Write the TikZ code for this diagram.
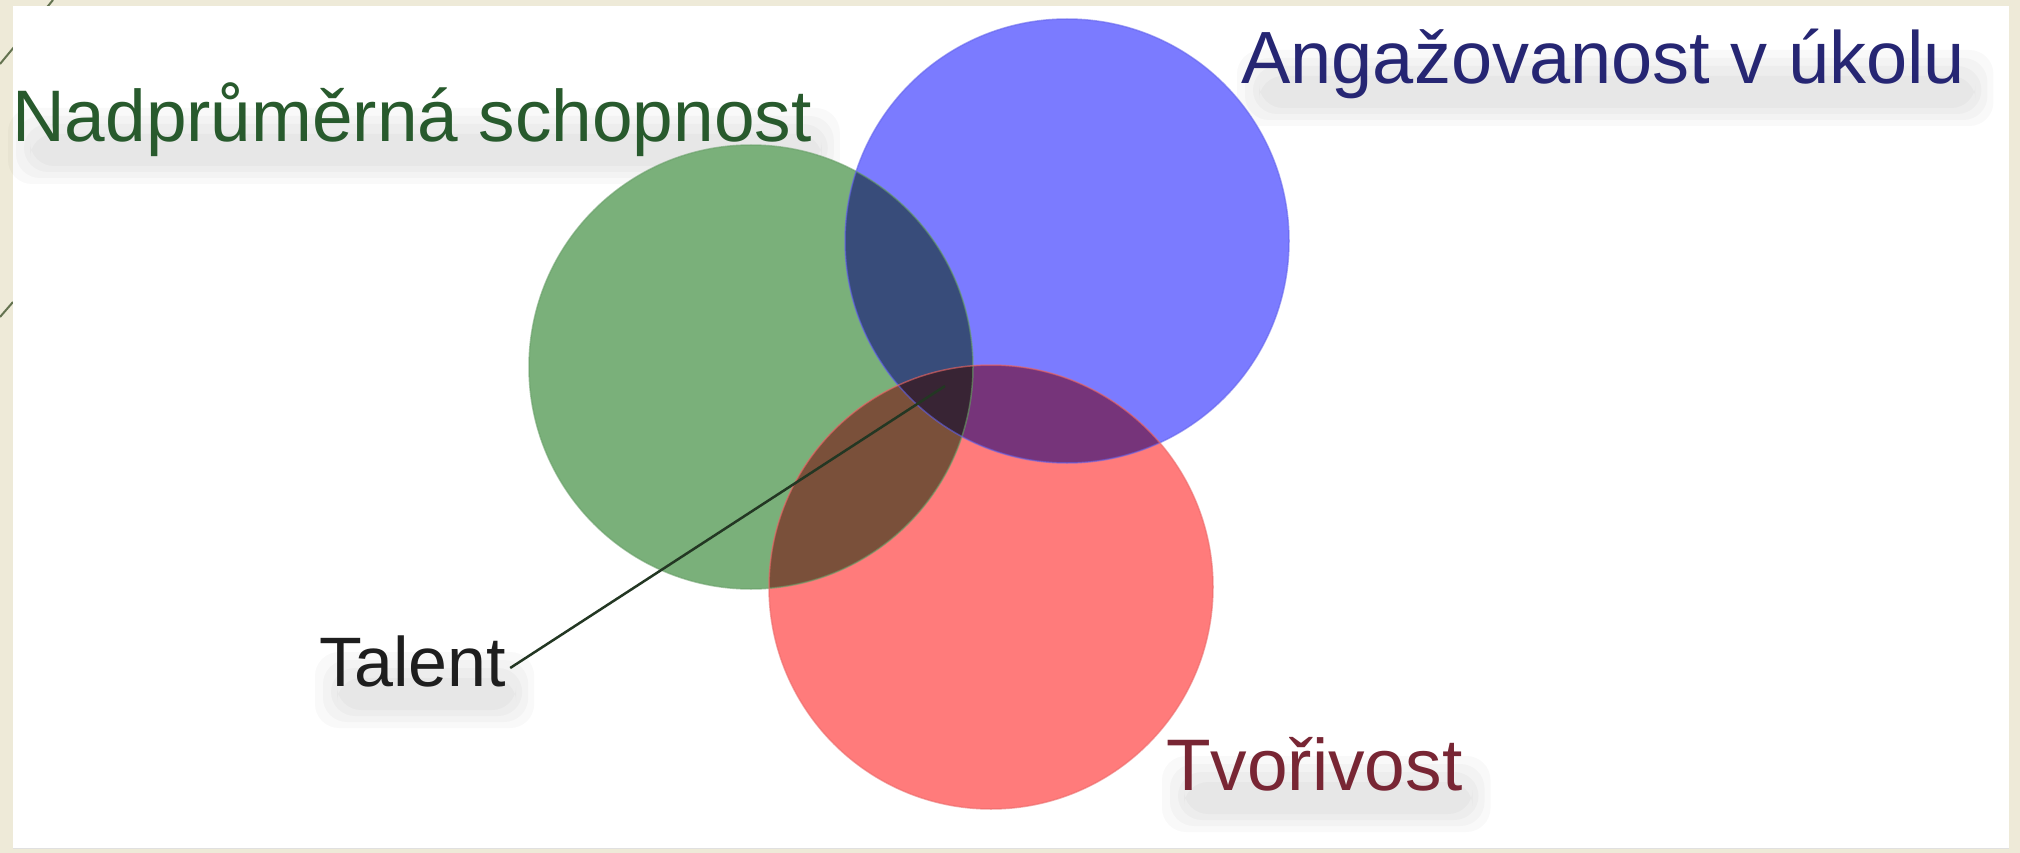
\documentclass[tikz,border=0pt]{standalone}
\usepackage{fontspec}
\setmainfont{Liberation Sans}
\definecolor{bgbeige}{RGB}{238,234,216}
\definecolor{decoline}{RGB}{100,115,80}
\definecolor{gfill}{RGB}{122,176,122}
\definecolor{bfill}{RGB}{123,123,255}
\definecolor{rfill}{RGB}{255,123,123}
\definecolor{gbfill}{RGB}{56,76,122}
\definecolor{brfill}{RGB}{118,52,122}
\definecolor{grfill}{RGB}{122,80,58}
\definecolor{allfill}{RGB}{56,36,52}
\definecolor{gedge}{RGB}{105,160,105}
\definecolor{bedge}{RGB}{100,100,235}
\definecolor{redge}{RGB}{235,105,105}
\definecolor{gtext}{RGB}{40,90,45}
\definecolor{btext}{RGB}{38,38,115}
\definecolor{ttext}{RGB}{30,30,30}
\definecolor{rtext}{RGB}{120,38,52}
\definecolor{talentline}{RGB}{35,55,35}
\pgfdeclarelayer{bg}
\pgfdeclarelayer{shade}
\pgfsetlayers{bg,shade,main}
\tikzset{
  lbl/.style={inner sep=0pt, anchor=base west, font=\fontsize{73}{80}\selectfont},
  softlayer/.style={fill=black, opacity=0.022, rounded corners=24pt},
}
\newcommand{\softshadow}[1]{%
  \fill[softlayer] ([xshift=-4pt,yshift=-42pt]#1.base west) rectangle ([xshift=28pt,yshift=34pt]#1.base east);
  \fill[softlayer] ([xshift=4pt,yshift=-36pt]#1.base west) rectangle ([xshift=22pt,yshift=26pt]#1.base east);
  \fill[softlayer] ([xshift=12pt,yshift=-30pt]#1.base west) rectangle ([xshift=16pt,yshift=18pt]#1.base east);
  \fill[softlayer] ([xshift=18pt,yshift=-24pt]#1.base west) rectangle ([xshift=10pt,yshift=8pt]#1.base east);
}
\begin{document}
\begin{tikzpicture}[x=1pt,y=-1pt]
\useasboundingbox (0,0) rectangle (2020,853);
\begin{pgfonlayer}{bg}
\fill[bgbeige] (0,0) rectangle (2020,853);
% decorative theme lines in the border
\draw[decoline, line width=2] (0,64) -- (53,0);
\draw[decoline, line width=2] (0,317) -- (13,302);
% white picture area
\fill[white] (13,6) rectangle (2009,848);
\draw[black!12, line width=1] (13,848) -- (2009,848);
\end{pgfonlayer}

\def\rad{222}
\coordinate (G) at (751,367);
\coordinate (B) at (1067,241);
\coordinate (R) at (991,587);

% single circles
\fill[gfill] (G) circle (\rad);
\fill[bfill] (B) circle (\rad);
\fill[rfill] (R) circle (\rad);
% pairwise overlaps
\begin{scope}
  \clip (G) circle (\rad);
  \fill[gbfill] (B) circle (\rad);
\end{scope}
\begin{scope}
  \clip (B) circle (\rad);
  \fill[brfill] (R) circle (\rad);
\end{scope}
\begin{scope}
  \clip (G) circle (\rad);
  \fill[grfill] (R) circle (\rad);
\end{scope}
\begin{scope}
  \clip (G) circle (\rad);
  \clip (B) circle (\rad);
  \fill[allfill] (R) circle (\rad);
\end{scope}
% faint rims
\draw[gedge, line width=1.5, opacity=0.6] (G) circle (\rad);
\draw[bedge, line width=1.5, opacity=0.6] (B) circle (\rad);
\draw[redge, line width=1.5, opacity=0.6] (R) circle (\rad);

% labels
\node[lbl, text=gtext] (abil) at (12,142) {Nadprůměrná schopnost};
\node[lbl, text=btext, font=\fontsize{74}{80}\selectfont] (eng) at (1241,84) {Angažovanost v úkolu};
\node[lbl, text=ttext, font=\fontsize{70}{78}\selectfont] (tal) at (319,686) {Talent};
\node[lbl, text=rtext] (cre) at (1166,790) {Tvořivost};

% soft drop shadows under the labels
\begin{pgfonlayer}{shade}
\softshadow{abil}
\softshadow{eng}
\softshadow{tal}
\softshadow{cre}
\end{pgfonlayer}

% connector
\coordinate (core) at (945,386);
\draw[talentline, line width=2.5] ([xshift=4pt,yshift=18pt]tal.base east) -- (core);
\end{tikzpicture}
\end{document}
